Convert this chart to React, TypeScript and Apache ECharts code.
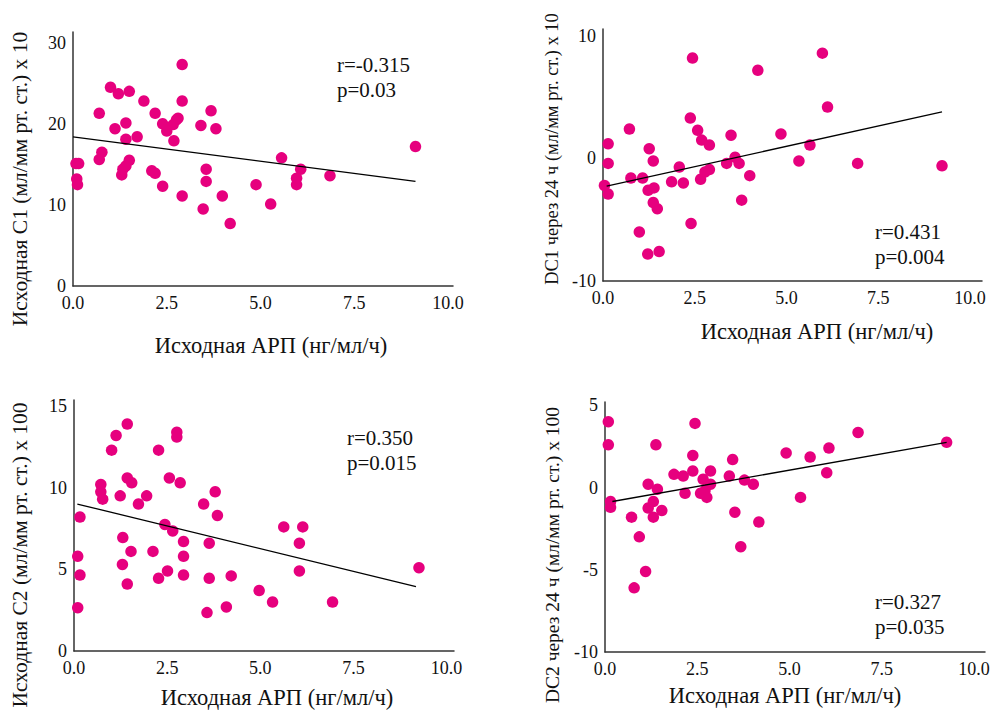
import React, { useEffect, useRef } from "react";
import * as echarts from "echarts";

// ---- Data ----
const xTickLabels = ["0.0", "2.5", "5.0", "7.5", "10.0"];
const xAxisTitle = "Исходная АРП (нг/мл/ч)";

const c1Points: number[][] = [
  [0.08, 15.1], [0.15, 15.1], [0.1, 13.2], [0.12, 12.5], [0.7, 21.3], [0.7, 15.6], [0.77, 16.5],
  [1.0, 24.5], [1.21, 23.7], [1.12, 19.4], [1.5, 24.0], [1.41, 20.1], [1.41, 18.1], [1.71, 18.4],
  [1.3, 13.7], [1.33, 14.4], [1.41, 14.8], [1.5, 15.5], [1.89, 22.8], [2.19, 21.3], [2.1, 14.2],
  [2.19, 13.9], [2.39, 12.3], [2.39, 20.0], [2.5, 19.1], [2.67, 19.9], [2.76, 20.5], [2.8, 20.7],
  [2.69, 17.9], [2.91, 27.3], [2.91, 22.8], [2.91, 11.1], [3.41, 19.8], [3.68, 21.6], [3.81, 19.4],
  [3.55, 14.4], [3.55, 12.9], [3.47, 9.5], [3.98, 11.1], [4.19, 7.7], [5.56, 15.8], [6.07, 14.4],
  [5.96, 13.3], [5.96, 12.5], [6.85, 13.6], [4.88, 12.5], [5.27, 10.1], [9.13, 17.2],
];
const c1Fit: number[][] = [[0, 18.4], [9.13, 12.9]];
const c1Stats = ["r=-0.315", "p=0.03"];

const dc1Points: number[][] = [
  [0.14, 1.2], [0.14, -0.4], [0.04, -2.2], [0.14, -2.9], [0.72, 2.4], [0.76, -1.6], [1.08, -1.6],
  [0.99, -6.0], [1.22, -7.8], [1.26, 0.8], [1.37, -0.2], [1.23, -2.6], [1.39, -2.4], [1.37, -3.6],
  [1.48, -4.1], [1.53, -7.6], [1.87, -1.9], [2.08, -0.7], [2.19, -2.0], [2.38, 3.3], [2.44, 8.2],
  [2.4, -5.3], [2.58, 2.3], [2.69, 1.5], [2.9, 1.1], [2.66, -1.7], [2.78, -1.1], [2.9, -0.9],
  [3.37, -0.4], [3.49, 1.9], [3.6, 0.1], [3.71, -0.4], [3.78, -3.4], [4.0, -1.4], [4.22, 7.2],
  [4.85, 2.0], [5.98, 8.6], [6.12, 4.2], [5.64, 1.1], [5.34, -0.2], [6.94, -0.4], [9.24, -0.6],
];
const dc1Fit: number[][] = [[0.1, -2.26], [9.24, 3.8]];
const dc1Stats = ["r=0.431", "p=0.004"];

const c2Points: number[][] = [
  [0.1, 5.8], [0.16, 4.65], [0.1, 2.65], [0.16, 8.2], [0.72, 10.2], [0.72, 9.75], [0.77, 9.3],
  [1.01, 12.3], [1.13, 13.2], [1.24, 9.5], [1.31, 6.95], [1.3, 5.3], [1.43, 13.9], [1.43, 10.6],
  [1.55, 10.3], [1.43, 4.1], [1.53, 6.1], [1.73, 9.0], [1.95, 9.5], [2.12, 6.1], [2.27, 12.3],
  [2.27, 4.45], [2.44, 7.75], [2.65, 7.35], [2.56, 10.6], [2.51, 4.9], [2.76, 13.4], [2.76, 13.1],
  [2.85, 10.3], [2.94, 6.7], [2.94, 5.8], [2.94, 4.65], [3.48, 9.0], [3.79, 9.75], [3.85, 8.3],
  [3.63, 6.6], [3.63, 4.45], [3.57, 2.35], [4.09, 2.7], [4.22, 4.6], [5.63, 7.6], [6.14, 7.6],
  [6.05, 6.6], [6.05, 4.9], [4.97, 3.7], [5.33, 3.0], [6.94, 3.0], [9.26, 5.1],
];
const c2Fit: number[][] = [[0.09, 9.0], [9.18, 3.94]];
const c2Stats = ["r=0.350", "p=0.015"];

const dc2Points: number[][] = [
  [0.09, 4.0], [0.09, 2.6], [0.15, -0.85], [0.15, -1.2], [0.72, -1.8], [0.79, -6.1], [0.93, -3.0],
  [1.1, -5.1], [1.17, 0.2], [1.17, -1.25], [1.31, -0.85], [1.31, -1.8], [1.42, -0.1], [1.38, 2.6],
  [1.54, -1.4], [1.87, 0.8], [2.12, 0.7], [2.17, -0.35], [2.38, 1.95], [2.38, 1.0], [2.44, 3.9],
  [2.66, 0.5], [2.59, -0.35], [2.71, -0.2], [2.76, -0.6], [2.86, 1.0], [2.86, 0.2], [3.37, 0.7],
  [3.46, 1.7], [3.52, -1.5], [3.68, -3.6], [3.78, 0.45], [4.02, 0.2], [4.17, -2.1], [4.91, 2.1],
  [5.56, 1.85], [6.07, 2.4], [6.01, 0.9], [5.3, -0.6], [6.86, 3.35], [9.26, 2.75],
];
const dc2Fit: number[][] = [[0.2, -0.85], [9.26, 2.75]];
const dc2Stats = ["r=0.327", "p=0.035"];

const yTitles = [
  "Исходная С1 (мл/мм рт. ст.) x 10",
  "DC1 через 24 ч (мл/мм рт. ст.) x 10",
  "Исходная С2 (мл/мм рт. ст.) x 100",
  "DC2 через 24 ч (мл/мм рт. ст.) x 100",
];

// ---- Layout / style ----
const FONT = "Liberation Serif, serif";
const DOT = "#E6007E";
const AXIS = "#333333";
const TXT = "#111111";

const panels = [
  {
    points: c1Points, fit: c1Fit, stats: c1Stats, yTitle: yTitles[0],
    grid: { left: 73, top: 32, width: 380, height: 254 },
    xMax: 10.13, yMin: 0, yMax: 31.32, yInterval: 10,
    statsPos: [337, 65], xTitlePos: [271, 345], yTitlePos: [20, 179], yTitleSize: 21.5,
  },
  {
    points: dc1Points, fit: dc1Fit, stats: dc1Stats, yTitle: yTitles[1],
    grid: { left: 603, top: 29, width: 379, height: 252 },
    xMax: 10.33, yMin: -10, yMax: 10.57, yInterval: 10,
    statsPos: [875, 232], xTitlePos: [817, 331], yTitlePos: [552, 149], yTitleSize: 18.5,
  },
  {
    points: c2Points, fit: c2Fit, stats: c2Stats, yTitle: yTitles[2],
    grid: { left: 74, top: 400, width: 380, height: 251 },
    xMax: 10.2, yMin: 0, yMax: 15.37, yInterval: 5,
    statsPos: [347, 438], xTitlePos: [277, 697], yTitlePos: [20, 555], yTitleSize: 21.5,
  },
  {
    points: dc2Points, fit: dc2Fit, stats: dc2Stats, yTitle: yTitles[3],
    grid: { left: 605, top: 402, width: 380, height: 250 },
    xMax: 10.3, yMin: -10, yMax: 5.2, yInterval: 5,
    statsPos: [875, 602], xTitlePos: [785, 695], yTitlePos: [552, 555], yTitleSize: 19.5,
  },
];

const isMult = (v: number, step: number) => Math.abs(v / step - Math.round(v / step)) < 1e-6;

export default function App() {
  const ref = useRef<HTMLDivElement>(null);
  useEffect(() => {
    if (!ref.current) return;
    const chart = echarts.init(ref.current, null, { renderer: "svg" });

    const graphic: any[] = [];
    panels.forEach((p) => {
      graphic.push({
        type: "text", x: p.statsPos[0], y: p.statsPos[1],
        style: { text: p.stats[0], fontFamily: FONT, fontSize: 21, fill: TXT, align: "left", verticalAlign: "middle" },
      });
      graphic.push({
        type: "text", x: p.statsPos[0], y: p.statsPos[1] + 25,
        style: { text: p.stats[1], fontFamily: FONT, fontSize: 21, fill: TXT, align: "left", verticalAlign: "middle" },
      });
      graphic.push({
        type: "text", x: p.xTitlePos[0], y: p.xTitlePos[1],
        style: { text: xAxisTitle, fontFamily: FONT, fontSize: 22.5, fill: TXT, align: "center", verticalAlign: "middle" },
      });
      graphic.push({
        type: "text", x: p.yTitlePos[0], y: p.yTitlePos[1], rotation: Math.PI / 2,
        style: { text: p.yTitle, fontFamily: FONT, fontSize: p.yTitleSize, fill: TXT, align: "center", verticalAlign: "middle" },
      });
    });

    const option: any = {
      animation: false,
      backgroundColor: "#ffffff",
      textStyle: { fontFamily: FONT },
      grid: panels.map((p) => ({ ...p.grid, containLabel: false })),
      xAxis: panels.map((p, i) => ({
        gridIndex: i, type: "value", min: 0, max: p.xMax, interval: 2.5,
        axisLine: { show: true, onZero: false, lineStyle: { color: AXIS, width: 1.5 } },
        axisTick: { show: false }, splitLine: { show: false },
        axisLabel: {
          fontFamily: FONT, fontSize: 18, color: TXT, margin: 8,
          formatter: (v: number) => (isMult(v, 2.5) ? xTickLabels[Math.round(v / 2.5)] ?? "" : ""),
        },
      })),
      yAxis: panels.map((p, i) => ({
        gridIndex: i, type: "value", min: p.yMin, max: p.yMax, interval: p.yInterval,
        axisLine: { show: true, onZero: false, lineStyle: { color: AXIS, width: 1.5 } },
        axisTick: { show: false }, splitLine: { show: false },
        axisLabel: {
          fontFamily: FONT, fontSize: 18, color: TXT, margin: 7,
          formatter: (v: number) => (isMult(v, p.yInterval) ? String(Math.round(v)) : ""),
        },
      })),
      series: panels.flatMap((p, i) => [
        {
          type: "scatter", xAxisIndex: i, yAxisIndex: i, data: p.points,
          symbol: "circle", symbolSize: 11.5, itemStyle: { color: DOT, opacity: 1 },
        },
        {
          type: "line", xAxisIndex: i, yAxisIndex: i, data: p.fit,
          symbol: "none", lineStyle: { color: "#000", width: 1.3 }, z: 3,
        },
      ]),
      graphic,
    };
    chart.setOption(option);
    return () => chart.dispose();
  }, []);

  return (
    <div
      ref={ref}
      style={{ position: "absolute", left: 0, top: 0, width: 995, height: 712, background: "#fff" }}
    />
  );
}
